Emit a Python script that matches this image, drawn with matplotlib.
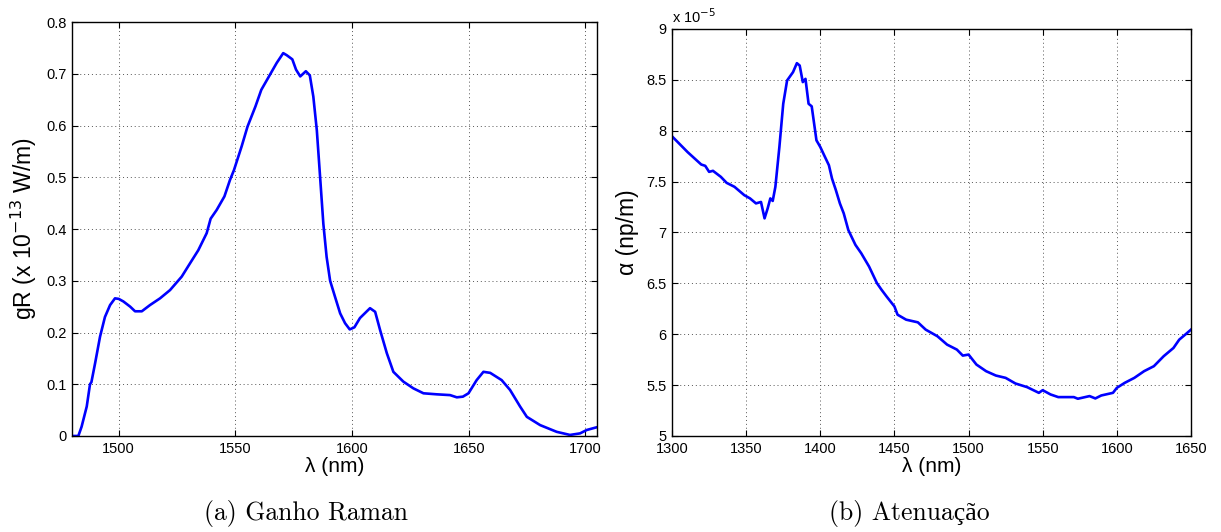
import numpy as np
import matplotlib
matplotlib.use("Agg")
import matplotlib.pyplot as plt

# (a) Raman gain
gr_lambda = [1480, 1482.7, 1484.1, 1486.3, 1487.7, 1488.3, 1489.9, 1492.0, 1494.1, 1496.3,
             1498.4, 1500.0, 1502.0, 1504.9, 1507.0, 1509.9, 1513.4, 1517.7, 1522.0, 1527.0,
             1530.6, 1534.1, 1537.7, 1539.4, 1542.0, 1545.3, 1547.7, 1549.4, 1552.7, 1555.2,
             1558.6, 1561.1, 1564.4, 1567.7, 1570.5, 1572.0, 1574.4, 1576.0, 1577.8, 1580.2,
             1581.9, 1583.4, 1584.9, 1586.3, 1587.7, 1589.1, 1590.6, 1592.7, 1594.9, 1597.0,
             1599.0, 1601.0, 1603.4, 1607.7, 1609.9, 1612.0, 1614.9, 1617.7, 1622.0, 1626.3,
             1630.6, 1636.3, 1642.0, 1644.9, 1647.5, 1649.9, 1653.4, 1656.3, 1659.2, 1664.1,
             1667.7, 1672.0, 1674.9, 1680.6, 1687.7, 1693.4, 1697.7, 1700.6, 1705.0]
gr_value = [0.0, 0.0, 0.018, 0.057, 0.100, 0.104, 0.141, 0.192, 0.230, 0.253,
            0.266, 0.265, 0.260, 0.250, 0.241, 0.241, 0.253, 0.266, 0.282, 0.308,
            0.334, 0.359, 0.392, 0.420, 0.437, 0.463, 0.495, 0.514, 0.560, 0.598,
            0.637, 0.669, 0.695, 0.721, 0.740, 0.736, 0.728, 0.708, 0.695, 0.705,
            0.697, 0.656, 0.591, 0.501, 0.410, 0.346, 0.300, 0.269, 0.237, 0.218,
            0.206, 0.210, 0.228, 0.247, 0.240, 0.205, 0.160, 0.124, 0.105, 0.092,
            0.0825, 0.0805, 0.079, 0.0747, 0.076, 0.0825, 0.108, 0.124, 0.122, 0.108,
            0.089, 0.057, 0.037, 0.021, 0.008, 0.002, 0.005, 0.0116, 0.017]

# (b) attenuation, in units of 1e-5 np/m
att_lambda = [1300, 1310.5, 1319.7, 1322.4, 1325.0, 1327.6, 1332.9, 1336.8, 1342.1, 1348.7,
              1352.6, 1356.6, 1360.0, 1362.4, 1364.5, 1366.3, 1367.9, 1369.7, 1372.4, 1375.0,
              1377.6, 1381.6, 1384.2, 1386.1, 1388.2, 1390.0, 1392.1, 1394.2, 1397.4, 1400.0,
              1402.6, 1405.8, 1407.9, 1410.5, 1413.2, 1415.8, 1418.9, 1423.7, 1427.6, 1432.9,
              1438.2, 1441.3, 1444.7, 1450.0, 1452.1, 1457.9, 1465.8, 1471.1, 1479.0, 1485.5,
              1492.1, 1496.1, 1500.0, 1505.3, 1511.8, 1518.4, 1525.0, 1531.6, 1539.5, 1547.4,
              1550.0, 1555.3, 1560.5, 1571.0, 1573.7, 1581.6, 1585.5, 1589.5, 1597.4, 1600.0,
              1605.3, 1611.8, 1618.4, 1625.0, 1631.6, 1638.2, 1642.1, 1646.1, 1650.0]
att_value = [7.945, 7.79, 7.668, 7.655, 7.596, 7.606, 7.547, 7.488, 7.449, 7.367,
             7.335, 7.286, 7.30, 7.139, 7.237, 7.335, 7.31, 7.449, 7.84, 8.265,
             8.494, 8.576, 8.664, 8.641, 8.478, 8.51, 8.265, 8.24, 7.906, 7.84,
             7.759, 7.661, 7.53, 7.416, 7.286, 7.188, 7.024, 6.878, 6.796, 6.665,
             6.502, 6.437, 6.371, 6.273, 6.192, 6.143, 6.117, 6.045, 5.98, 5.898,
             5.849, 5.79, 5.80, 5.702, 5.637, 5.594, 5.571, 5.516, 5.48, 5.424,
             5.45, 5.408, 5.382, 5.382, 5.366, 5.392, 5.369, 5.398, 5.424, 5.473,
             5.522, 5.571, 5.637, 5.686, 5.784, 5.865, 5.947, 5.996, 6.045]

gr_xticks = [1500, 1550, 1600, 1650, 1700]
gr_yticks = [0, 0.1, 0.2, 0.3, 0.4, 0.5, 0.6, 0.7, 0.8]
att_xticks = [1300, 1350, 1400, 1450, 1500, 1550, 1600, 1650]
att_yticks = [5, 5.5, 6, 6.5, 7, 7.5, 8, 8.5, 9]

plt.rcParams['font.family'] = ['Liberation Sans', 'DejaVu Sans']
plt.rcParams['font.size'] = 10.5

fig = plt.figure(figsize=(12.21, 5.32), dpi=100)
ax1 = fig.add_axes([0.059, 0.1805, 0.430, 0.778])
ax2 = fig.add_axes([0.5504, 0.1805, 0.425, 0.765])


def style_axes(ax):
    ax.grid(True, color='#555555', linestyle=(0, (1, 3)), linewidth=0.7)
    ax.tick_params(direction='in', top=True, right=True, length=4, width=0.8,
                   labelsize=10.5, pad=4)
    for s in ax.spines.values():
        s.set_linewidth(1.0)


ax1.plot(gr_lambda, gr_value, color='#0000ff', linewidth=1.9)
ax1.set_xlim(1480, 1705)
ax1.set_ylim(0, 0.8)
ax1.set_xticks(gr_xticks)
ax1.set_yticks(gr_yticks)
ax1.set_yticklabels(['%g' % v for v in gr_yticks])
ax1.set_xlabel('λ (nm)', fontsize=15, labelpad=1)
ax1.set_ylabel('gR (x 10$^{-13}$ W/m)', fontsize=16.5, labelpad=5)
style_axes(ax1)

ax2.plot(att_lambda, att_value, color='#0000ff', linewidth=1.9)
ax2.set_xlim(1300, 1650)
ax2.set_ylim(5, 9)
ax2.set_xticks(att_xticks)
ax2.set_yticks(att_yticks)
ax2.set_yticklabels(['%g' % v for v in att_yticks])
ax2.set_xlabel('λ (nm)', fontsize=15, labelpad=1)
ax2.set_ylabel('α (np/m)', fontsize=16.5, labelpad=5)
ax2.text(0.0, 1.008, 'x 10$^{-5}$', transform=ax2.transAxes, fontsize=10.5,
         ha='left', va='bottom')
style_axes(ax2)

cap_font = ['cmr10', 'Liberation Serif']
fig.text(0.251, 0.022, '(a) Ganho Raman', fontsize=18.5, family=cap_font, ha='center')
fig.text(0.745, 0.022, '(b) Atenuação', fontsize=18.5, family=cap_font, ha='center')

fig.savefig('out.png', dpi=100)
